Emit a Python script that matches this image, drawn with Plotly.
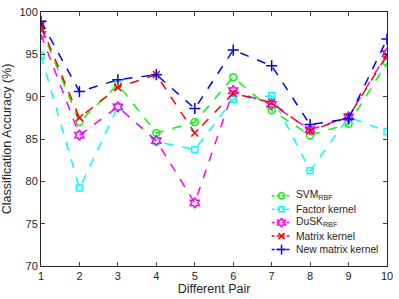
import plotly.graph_objects as go

pairs = [1, 2, 3, 4, 5, 6, 7, 8, 9, 10]
svm_rbf = [98.1, 87.0, 91.45, 85.7, 87.0, 92.3, 88.4, 85.45, 86.8, 94.0]
factor_kernel = [94.85, 79.2, 88.8, 84.7, 83.75, 89.7, 90.1, 81.25, 87.6, 85.9]
dusk_rbf = [97.35, 85.45, 88.8, 84.8, 77.45, 90.7, 89.1, 86.1, 87.6, 95.1]
matrix_kernel = [98.4, 87.5, 91.1, 92.6, 85.7, 90.4, 89.3, 85.95, 87.6, 94.9]
new_matrix_kernel = [98.9, 90.6, 92.0, 92.6, 88.6, 95.5, 93.65, 86.7, 87.4, 96.8]

series_names = ["SVM<sub>RBF</sub>", "Factor kernel", "DuSK<sub>RBF</sub>",
                "Matrix kernel", "New matrix kernel"]
series_values = [svm_rbf, factor_kernel, dusk_rbf, matrix_kernel, new_matrix_kernel]
colors = ["#00ff00", "#00ffff", "#ff00ff", "#ff0000", "#0000ff"]
symbols = ["circle-open", "square-open", "hexagram-open", "x-thin", "cross-thin"]
sizes = [7, 6, 8, 7, 8]

W, H = 399, 299
ML, MR, MT, MB = 41, 7, 6, 33
PW, PH = W - ML - MR, H - MT - MB

def px_to_paper(px, py):
    return (px - ML) / PW, (H - MB - py) / PH

fig = go.Figure()
for name, vals, col, sym, sz in zip(series_names, series_values, colors, symbols, sizes):
    fig.add_trace(go.Scatter(
        x=pairs, y=vals, name=name, mode="lines+markers", showlegend=False,
        line=dict(color=col, width=1.5, dash="dash"),
        marker=dict(symbol=sym, size=sz, color=col, line=dict(color=col, width=1.5)),
    ))

# manual compact legend (layout positions in pixels)
leg_x0, leg_x1, leg_mx, leg_tx = 275, 293, 285, 298
leg_y0, leg_dy = 194, 13.8
for i, (name, col, sym, sz) in enumerate(zip(series_names, colors, symbols, sizes)):
    py = leg_y0 + i * leg_dy
    xa, ya = px_to_paper(leg_x0, py)
    xb, _ = px_to_paper(leg_x1, py)
    fig.add_shape(type="line", xref="paper", yref="paper", x0=xa, x1=xb, y0=ya, y1=ya,
                  line=dict(color=col, width=1.5, dash="3px,2px"))
    xm, ym = px_to_paper(leg_mx, py)
    fig.add_trace(go.Scatter(
        x=[xm], y=[ym], xaxis="x2", yaxis="y2", mode="markers", showlegend=False,
        hoverinfo="skip",
        marker=dict(symbol=sym, size=sz - 1, color=col, line=dict(color=col, width=1.5)),
    ))
    xt, yt = px_to_paper(leg_tx, py)
    fig.add_annotation(xref="paper", yref="paper", x=xt, y=yt, text=name,
                       showarrow=False, xanchor="left", yanchor="middle",
                       font=dict(size=10.3, color="#262626"))

fig.update_layout(
    width=W, height=H,
    margin=dict(l=ML, r=MR, t=MT, b=MB),
    paper_bgcolor="white", plot_bgcolor="white",
    font=dict(family="Liberation Sans, Arial, sans-serif", size=11, color="#262626"),
    showlegend=False,
    xaxis=dict(range=[1, 10], tickvals=pairs, ticks="inside", ticklen=4,
               showline=True, mirror="ticks", linecolor="#262626", linewidth=1,
               showgrid=False, zeroline=False, tickfont=dict(size=11),
               title=dict(text="Different Pair", standoff=2, font=dict(size=12.5))),
    yaxis=dict(range=[70, 100], tickvals=[70, 75, 80, 85, 90, 95, 100], ticks="inside", ticklen=4,
               showline=True, mirror="ticks", linecolor="#262626", linewidth=1,
               showgrid=False, zeroline=False, tickfont=dict(size=11),
               title=dict(text="Classification Accuracy (%)", standoff=5, font=dict(size=12.5))),
    xaxis2=dict(overlaying="x", range=[0, 1], visible=False, fixedrange=True),
    yaxis2=dict(overlaying="y", range=[0, 1], visible=False, fixedrange=True),
)

fig.write_html("out.html", config={"displayModeBar": False},
               post_script="document.body.style.margin='0';")
